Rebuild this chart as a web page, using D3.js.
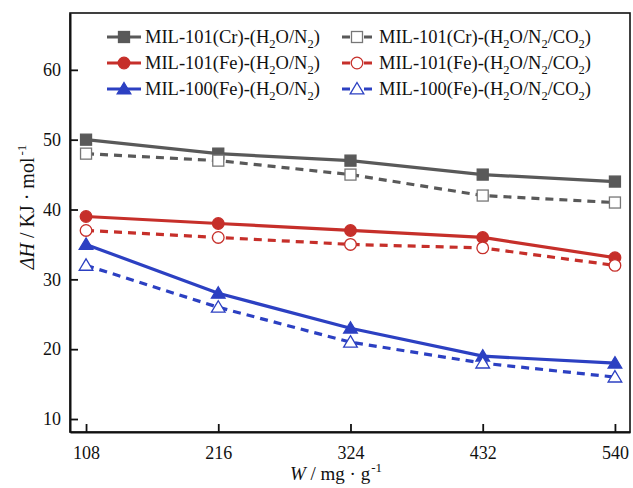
<!DOCTYPE html>
<html><head><meta charset="utf-8">
<script src="https://cdn.jsdelivr.net/npm/d3@7"></script>
<style>body{margin:0;background:#fff}svg{display:block}text{font-family:"Liberation Serif","Times New Roman",serif;fill:#111}</style>
</head><body><svg id="c" width="633" height="488"></svg>
<script>
const xValues = [108, 216, 324, 432, 540];
const yTicks = [10, 20, 30, 40, 50, 60];
const cr_h2o_n2 = [50, 48, 47, 45, 44];
const cr_h2o_n2_co2 = [48, 47, 45, 42, 41];
const fe101_h2o_n2 = [39, 38, 37, 36, 33.1];
const fe101_h2o_n2_co2 = [37, 36, 35, 34.5, 32];
const fe100_h2o_n2 = [35, 28, 23, 19, 18];
const fe100_h2o_n2_co2 = [32, 26, 21, 18, 16];

const gray = "#595959", red = "#c62f2a", blue = "#2c40c2";
const series = [
  {name:"MIL-101(Cr)", gas:"CO0", vals:cr_h2o_n2, color:gray, shape:"square", fill:true, dash:false},
  {name:"MIL-101(Cr)", gas:"CO2", vals:cr_h2o_n2_co2, color:gray, shape:"square", fill:false, dash:true},
  {name:"MIL-101(Fe)", gas:"CO0", vals:fe101_h2o_n2, color:red, shape:"circle", fill:true, dash:false},
  {name:"MIL-101(Fe)", gas:"CO2", vals:fe101_h2o_n2_co2, color:red, shape:"circle", fill:false, dash:true},
  {name:"MIL-100(Fe)", gas:"CO0", vals:fe100_h2o_n2, color:blue, shape:"triangle", fill:true, dash:false},
  {name:"MIL-100(Fe)", gas:"CO2", vals:fe100_h2o_n2_co2, color:blue, shape:"triangle", fill:false, dash:true}
];

const svg = d3.select("#c");
const L=70, R=630, T=13, B=432;
const x = d3.scaleLinear().domain([94.9, 552.3]).range([L, R]);
const y = d3.scaleLinear().domain([8.14, 68.14]).range([B, T]);

// frame
svg.append("rect").attr("x",L).attr("y",T).attr("width",R-L).attr("height",B-T)
  .attr("fill","none").attr("stroke","#111").attr("stroke-width",1.6);

// axes
const xAxis = d3.axisBottom(x).tickValues(xValues).tickSizeInner(-8).tickSizeOuter(0).tickPadding(14);
const gx = svg.append("g").attr("transform",`translate(0,${B})`).call(xAxis);
gx.select(".domain").attr("stroke","#111").attr("stroke-width",2);
gx.selectAll(".tick line").attr("stroke","#111").attr("stroke-width",1.8);
gx.selectAll("text").attr("font-size",18).attr("fill","#111").attr("font-family","Liberation Serif");

const yAxis = d3.axisLeft(y).tickValues(yTicks).tickSizeInner(-8).tickSizeOuter(0).tickPadding(9);
const gy = svg.append("g").attr("transform",`translate(${L},0)`).call(yAxis);
gy.select(".domain").attr("stroke","#111").attr("stroke-width",2);
gy.selectAll(".tick line").attr("stroke","#111").attr("stroke-width",1.8);
gy.selectAll("text").attr("font-size",18).attr("fill","#111").attr("font-family","Liberation Serif");

// axis titles
const xt = svg.append("text").attr("x",336).attr("y",480).attr("text-anchor","middle").attr("font-size",19);
xt.append("tspan").attr("font-style","italic").text("W");
xt.append("tspan").text(" / mg · g");
xt.append("tspan").attr("font-size",13).attr("dy",-8).attr("dx",1).text("-1");

const yt = svg.append("text").attr("transform","translate(34,207) rotate(-90)").attr("text-anchor","middle").attr("font-size",20);
yt.append("tspan").attr("font-style","italic").text("ΔH");
yt.append("tspan").text(" / KJ · mol");
yt.append("tspan").attr("font-size",13).attr("dy",-8).attr("dx",2).text("-1");

function marker(g, s, cx, cy){
  const sw = 1.3;
  if(s.shape==="square"){
    g.append("rect").attr("x",cx-5.5).attr("y",cy-5.5).attr("width",11).attr("height",11)
      .attr("fill",s.fill?s.color:"#fff").attr("stroke",s.fill?s.color:"#777").attr("stroke-width",sw);
  } else if(s.shape==="circle"){
    g.append("circle").attr("cx",cx).attr("cy",cy).attr("r",5.8)
      .attr("fill",s.fill?s.color:"#fff").attr("stroke",s.color).attr("stroke-width",sw);
  } else {
    const h=6.5;
    g.append("path").attr("d",`M${cx},${cy-h}L${cx+h*1.05},${cy+h*0.75}L${cx-h*1.05},${cy+h*0.75}Z`)
      .attr("fill",s.fill?s.color:"#fff").attr("stroke",s.color).attr("stroke-width",sw);
  }
}

const line = d3.line().x((d,i)=>x(xValues[i])).y(d=>y(d));
series.forEach(s=>{
  svg.append("path").datum(s.vals).attr("d",line).attr("fill","none")
    .attr("stroke",s.color).attr("stroke-width",3.2)
    .attr("stroke-dasharray",s.dash?"8,6":null);
});
series.forEach(s=>{
  const g = svg.append("g");
  s.vals.forEach((v,i)=>marker(g,s,x(xValues[i]),y(v)));
});

// legend
const rowsY = [37, 63, 89];
series.forEach((s,k)=>{
  const col = k%2, row = Math.floor(k/2);
  const g = svg.append("g");
  const cy = rowsY[row];
  if(col===0){
    g.append("line").attr("x1",107).attr("x2",141).attr("y1",cy).attr("y2",cy).attr("stroke",s.color).attr("stroke-width",3.2);
    marker(g,s,124,cy);
  } else {
    g.append("line").attr("x1",342).attr("x2",372).attr("y1",cy).attr("y2",cy).attr("stroke",s.color).attr("stroke-width",3.2).attr("stroke-dasharray","8,14");
    marker(g,s,357,cy);
  }
  const t = g.append("text").attr("x",col===0?145:379).attr("y",cy+6).attr("font-size",18.5);
  t.append("tspan").text(s.name+"-(H");
  t.append("tspan").attr("font-size",12.5).attr("dy",5).text("2");
  t.append("tspan").attr("dy",-5).text("O/N");
  t.append("tspan").attr("font-size",12.5).attr("dy",5).text("2");
  if(s.gas==="CO2"){
    t.append("tspan").attr("dy",-5).text("/CO");
    t.append("tspan").attr("font-size",12.5).attr("dy",5).text("2");
  }
  t.append("tspan").attr("dy",-5).text(")");
});
</script></body></html>
